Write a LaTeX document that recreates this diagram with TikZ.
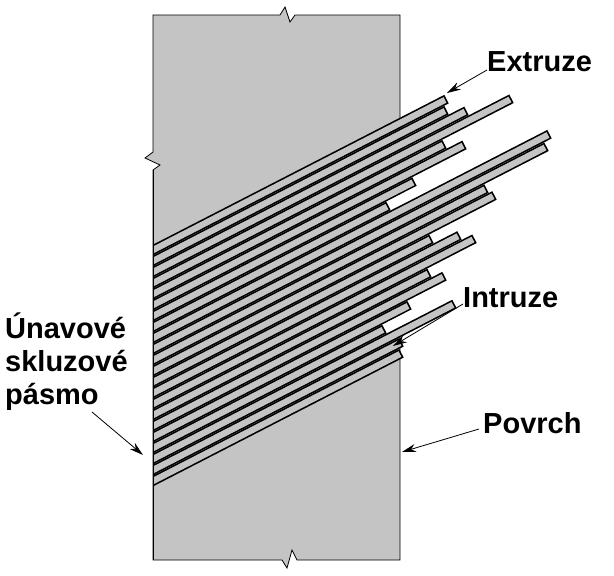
\documentclass[tikz,border=0pt]{standalone}
\usepackage{fontspec}
\setmainfont{Liberation Sans}
\usetikzlibrary{calc,arrows.meta,positioning}
\definecolor{mygray}{RGB}{196,196,196}
\tikzstyle{label}=[font=\bfseries\fontsize{29}{33}\selectfont,inner sep=0pt]
\tikzstyle{pointer}=[thick,-{Stealth[length=14pt,width=8pt]}]
\tikzstyle{bandout}=[line width=9.6pt,black]
\tikzstyle{bandin}=[line width=6.3pt,mygray]

\begin{document}
\begin{tikzpicture}[x=1pt,y=-1pt]
\useasboundingbox (0,0) rectangle (614,576);
% block
\filldraw[fill=mygray,draw=black,thick] (153,15) -- (280,15) -- (285,7) -- (290,22) -- (295,15)
  -- (400,15) -- (400,560) -- (297,560) -- (292,550) -- (287,568) -- (282,560)
  -- (153,560) -- (153,170) -- (160,165) -- (145,158) -- (153,152) -- cycle;
% slip bands
\begin{scope}
\clip (154,0) rectangle (614,576);
\foreach \e [count=\i from 0] in {445,445,465,510,443,463,413,387,548,545,485,493,430,458,473,428,443,408,383,453,400,400} {
  \pgfmathsetmacro{\c}{250+11*\i}
  \pgfmathsetmacro{\ye}{\c-0.514*(\e-153)}
  \ifnum\e<400
    \draw[line width=9.5pt,white] (\e,\ye) -- (\e+30,\ye-15.42);
  \fi
  \draw[bandout] (140,\c+6.7) -- ($(\e,\ye)+(1.5,-0.77)$);
  \draw[bandin] (140,\c+6.7) -- (\e,\ye);
}
\end{scope}
\draw[thick] (153,170) -- (153,560);
% labels
\node[label,anchor=west] (extr) at (487,62) {Extruze};
\node[label,anchor=west] (intr) at (463,298) {Intruze};
\node[label,anchor=west] (povr) at (483,423) {Povrch};
\node[label,anchor=west,align=left] (pasm) at (5,362) {Únavové\\skluzové\\pásmo};
\coordinate (extrtip) at (447,93);
\coordinate (intrtip) at (393,346);
\coordinate (povrtip) at (402,452);
\coordinate (pasmtip) at (143,455);
\draw[pointer] (extr.west) ++(0,8) -- (extrtip);
\draw[pointer] (intr.west) ++(0,6) -- (intrtip);
\draw[pointer] (povr.west) ++(-4,6) -- (povrtip);
\draw[pointer] (92,412) -- (pasmtip);
\end{tikzpicture}
\end{document}
